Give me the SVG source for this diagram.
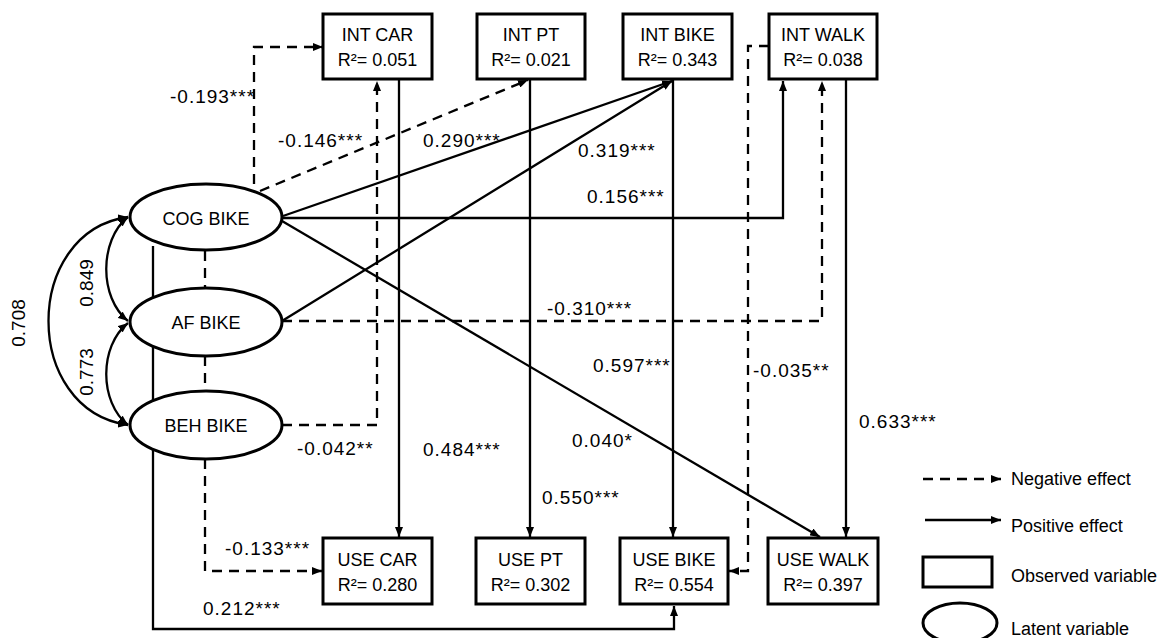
<svg xmlns="http://www.w3.org/2000/svg" width="1169" height="638" viewBox="0 0 1169 638">
<defs>
<style>
text{font-family:"Liberation Sans",Arial,sans-serif;font-size:18px;fill:#000}
.c{text-anchor:middle}
.n{font-size:19px;letter-spacing:1px}
.r{font-size:19px}
.pos{fill:none;stroke:#000;stroke-width:2.3}
.neg{fill:none;stroke:#000;stroke-width:2.3;stroke-dasharray:10 7}
.box{fill:#fff;stroke:#000;stroke-width:3}
.ell{fill:#fff;stroke:#000;stroke-width:3}
.arr{marker-end:url(#ah)}
.arc{fill:none;stroke:#000;stroke-width:2.3;marker-end:url(#ah);marker-start:url(#ahs)}
</style>
<marker id="ah" markerUnits="userSpaceOnUse" markerWidth="10" markerHeight="8" refX="10" refY="4" orient="auto"><path d="M0,0 L10,4 L0,8 z" fill="#000"/></marker>
<marker id="ahs" markerUnits="userSpaceOnUse" markerWidth="10" markerHeight="8" refX="10" refY="4" orient="auto-start-reverse"><path d="M0,0 L10,4 L0,8 z" fill="#000"/></marker>
</defs>
<rect width="1169" height="638" fill="#fff"/>
<g id="connectors">
<path class="neg arr" d="M254,184 V47 H323"/>
<path class="neg arr" d="M260,191 L528,80"/>
<path class="neg arr" d="M282,425 H377 V81"/>
<path class="neg arr" d="M282,321 H822 V81"/>
<path class="neg arr" d="M769,46 H748 V571 H729"/>
<path class="neg arr" d="M205,459 V571 H322"/>
<path class="neg" d="M205,251 V289"/>
<path class="neg" d="M205,356 V391"/>
<path class="pos arr" d="M283,216 L672,81"/>
<path class="pos arr" d="M282,321 L672,81"/>
<path class="pos arr" d="M282,218 H783 V81"/>
<path class="pos arr" d="M282,221 L820,537"/>
<path class="pos arr" d="M399,79 V537"/>
<path class="pos arr" d="M530,79 V537"/>
<path class="pos arr" d="M673,79 V537"/>
<path class="pos arr" d="M846,79 V537"/>
<path class="pos arr" d="M153,246 V629 H674 V606"/>
<path class="arc" d="M128,217 C99,240 99,298 128,321"/>
<path class="arc" d="M128,323 C99,346 99,402 128,425"/>
<path class="arc" d="M128,217 C22,232 22,410 128,425"/>
</g>
<g id="labels">
<text class="n" x="170" y="103">-0.193***</text>
<text class="n" x="278" y="147">-0.146***</text>
<text class="n" x="423" y="147">0.290***</text>
<text class="n" x="578" y="157">0.319***</text>
<text class="n" x="587" y="203">0.156***</text>
<text class="n" x="547" y="315">-0.310***</text>
<text class="n" x="593" y="372">0.597***</text>
<text class="n" x="753" y="377">-0.035**</text>
<text class="n" x="859" y="428">0.633***</text>
<text class="n" x="572" y="447">0.040*</text>
<text class="n" x="423" y="456">0.484***</text>
<text class="n" x="297" y="455">-0.042**</text>
<text class="n" x="542" y="504">0.550***</text>
<text class="n" x="225" y="555">-0.133***</text>
<text class="n" x="203" y="615">0.212***</text>
<text class="c r" transform="translate(93,283) rotate(-90)">0.849</text>
<text class="c r" transform="translate(93,372) rotate(-90)">0.773</text>
<text class="c r" transform="translate(25,323) rotate(-90)">0.708</text>
</g>
<g id="int-car"><rect class="box" x="323" y="14" width="109" height="65"/><text class="c" x="377.5" y="41">INT CAR</text><text class="c" x="377.5" y="66">R²= 0.051</text></g>
<g id="int-pt"><rect class="box" x="477" y="14" width="108" height="65"/><text class="c" x="531" y="41">INT PT</text><text class="c" x="531" y="66">R²= 0.021</text></g>
<g id="int-bike"><rect class="box" x="623" y="14" width="109" height="65"/><text class="c" x="677.5" y="41">INT BIKE</text><text class="c" x="677.5" y="66">R²= 0.343</text></g>
<g id="int-walk"><rect class="box" x="769" y="14" width="108" height="65"/><text class="c" x="823" y="41">INT WALK</text><text class="c" x="823" y="66">R²= 0.038</text></g>
<g id="use-car"><rect class="box" x="323" y="538" width="109" height="66"/><text class="c" x="377.5" y="566">USE CAR</text><text class="c" x="377.5" y="591">R²= 0.280</text></g>
<g id="use-pt"><rect class="box" x="476" y="538" width="109" height="66"/><text class="c" x="530.5" y="566">USE PT</text><text class="c" x="530.5" y="591">R²= 0.302</text></g>
<g id="use-bike"><rect class="box" x="620" y="538" width="108" height="66"/><text class="c" x="674" y="566">USE BIKE</text><text class="c" x="674" y="591">R²= 0.554</text></g>
<g id="use-walk"><rect class="box" x="768" y="538" width="110" height="66"/><text class="c" x="823" y="566">USE WALK</text><text class="c" x="823" y="591">R²= 0.397</text></g>
<g id="cog-bike"><ellipse class="ell" cx="206" cy="217" rx="76" ry="33"/><text class="c" x="206" y="225">COG BIKE</text></g>
<g id="af-bike"><ellipse class="ell" cx="206" cy="322" rx="76" ry="34"/><text class="c" x="206" y="329">AF BIKE</text></g>
<g id="beh-bike"><ellipse class="ell" cx="206" cy="425" rx="76" ry="34"/><text class="c" x="206" y="432">BEH BIKE</text></g>
<g id="legend">
<path class="neg arr" d="M923,479 H1001"/>
<path class="pos arr" d="M925,520 H1001"/>
<rect class="box" x="923" y="557" width="69" height="30"/>
<ellipse class="ell" cx="960" cy="623" rx="37" ry="20"/>
<text x="1011" y="485">Negative effect</text>
<text x="1011" y="532">Positive effect</text>
<text x="1011" y="582">Observed variable</text>
<text x="1011" y="635">Latent variable</text>
</g>
</svg>
